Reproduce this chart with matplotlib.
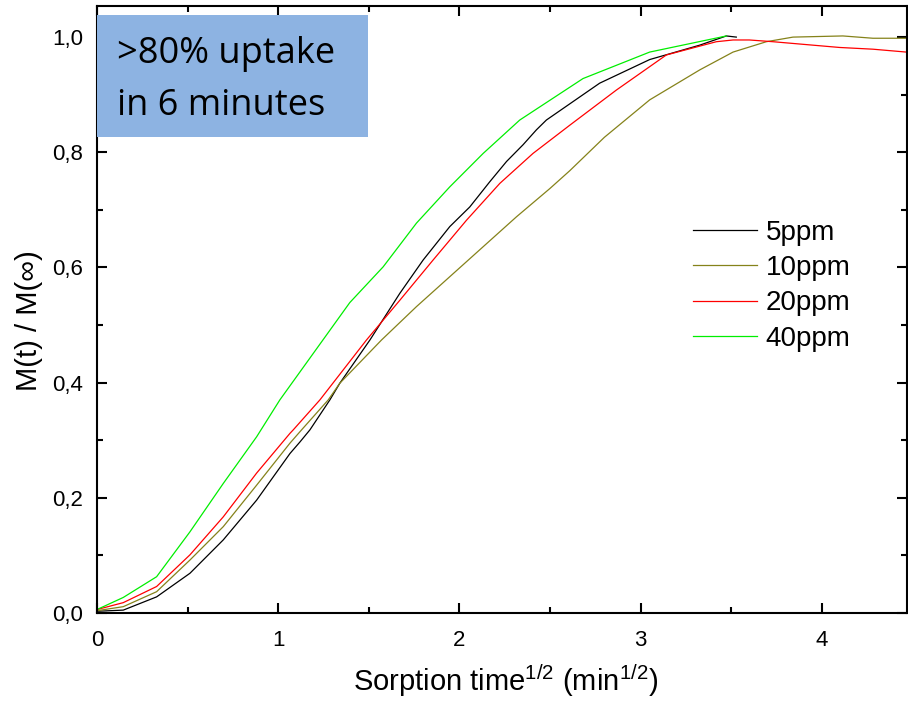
import matplotlib
matplotlib.use("Agg")
import matplotlib.pyplot as plt
from matplotlib.patches import Rectangle

plt.rcParams['font.family'] = ['Liberation Sans', 'DejaVu Sans']
plt.rcParams['mathtext.fontset'] = 'custom'
plt.rcParams['mathtext.rm'] = 'Liberation Sans'
plt.rcParams['mathtext.it'] = 'Liberation Sans'

# Sorption curves: square-root of time (min^1/2) vs. fractional uptake
t_5ppm = [0.0, 0.145, 0.329, 0.513, 0.697, 0.881, 1.065, 1.12, 1.175, 1.285, 1.34,
          1.506, 1.671, 1.8, 1.947, 2.057, 2.168, 2.26, 2.351, 2.425, 2.48, 2.774,
          3.05, 3.326, 3.473, 3.528]
m_5ppm = [0.003, 0.005, 0.028, 0.069, 0.127, 0.196, 0.277, 0.297, 0.318, 0.370, 0.399,
          0.474, 0.555, 0.613, 0.671, 0.705, 0.749, 0.784, 0.813, 0.839, 0.856, 0.920,
          0.961, 0.986, 1.002, 1.000]

t_10ppm = [0.0, 0.145, 0.329, 0.513, 0.697, 0.881, 1.065, 1.129, 1.276, 1.34, 1.57,
           1.763, 1.947, 2.131, 2.315, 2.499, 2.609, 2.8, 3.05, 3.326, 3.51, 3.694,
           3.841, 4.116, 4.282, 4.466]
m_10ppm = [0.004, 0.011, 0.037, 0.092, 0.150, 0.222, 0.295, 0.318, 0.370, 0.399, 0.474,
           0.532, 0.584, 0.636, 0.688, 0.737, 0.768, 0.826, 0.891, 0.943, 0.974, 0.992,
           1.000, 1.002, 0.998, 0.998]

t_20ppm = [0.0, 0.145, 0.329, 0.513, 0.697, 0.881, 1.065, 1.083, 1.23, 1.487, 1.671,
           1.855, 2.039, 2.223, 2.406, 2.609, 2.866, 3.142, 3.418, 3.51, 3.6, 3.73,
           3.877, 4.098, 4.282, 4.466]
m_20ppm = [0.006, 0.018, 0.046, 0.101, 0.167, 0.243, 0.312, 0.318, 0.370, 0.474, 0.543,
           0.613, 0.682, 0.746, 0.798, 0.847, 0.908, 0.969, 0.992, 0.995, 0.995, 0.992,
           0.988, 0.982, 0.979, 0.974]

t_40ppm = [0.0, 0.145, 0.329, 0.513, 0.697, 0.881, 1.009, 1.395, 1.579, 1.763, 1.947,
           2.131, 2.333, 2.682, 3.05, 3.473]
m_40ppm = [0.006, 0.027, 0.063, 0.141, 0.225, 0.306, 0.370, 0.539, 0.601, 0.677, 0.740,
           0.798, 0.856, 0.928, 0.974, 1.002]

series_labels = ['5ppm', '10ppm', '20ppm', '40ppm']
series_colors = ['#000000', '#85821a', '#ff0000', '#00ee00']

y_ticks = [0.0, 0.2, 0.4, 0.6, 0.8, 1.0]
y_tick_labels = ['0,0', '0,2', '0,4', '0,6', '0,8', '1,0']
x_ticks = [0, 1, 2, 3, 4]
x_tick_labels = ['0', '1', '2', '3', '4']

W, H = 908, 705
fig = plt.figure(figsize=(W / 100, H / 100), dpi=100)
ax = fig.add_axes([97 / W, 1 - 613 / H, (907 - 97) / W, (613 - 6) / H])

for t, m, lab, col in zip([t_5ppm, t_10ppm, t_20ppm, t_40ppm],
                          [m_5ppm, m_10ppm, m_20ppm, m_40ppm],
                          series_labels, series_colors):
    ax.plot(t, m, color=col, lw=0.9, label=lab)

ax.set_xlim(0, 4.47)
ax.set_ylim(0, 1.054)

ax.set_xticks(x_ticks)
ax.set_xticklabels(x_tick_labels)
ax.set_xticks([0.5, 1.5, 2.5, 3.5], minor=True)
ax.set_yticks(y_ticks)
ax.set_yticklabels(y_tick_labels)
ax.set_yticks([0.1, 0.3, 0.5, 0.7, 0.9], minor=True)

for lbl in ax.get_xticklabels() + ax.get_yticklabels():
    lbl.set_fontsize(16)

ax.tick_params(which='both', direction='in', top=True, right=True, width=1.5)
ax.tick_params(which='major', length=7.5)
ax.tick_params(which='minor', length=4)
ax.tick_params(axis='x', which='major', pad=12)
ax.tick_params(axis='y', which='major', pad=10)
for s in ax.spines.values():
    s.set_linewidth(1.5)

ax.set_xlabel('Sorption time$^{1/2}$ (min$^{1/2}$)', fontsize=21, va='baseline')
ax.xaxis.set_label_coords(0.505, -(691 - 613) / (613 - 6))
ax.set_ylabel('M(t) / M(\u221e)', fontsize=21, va='center')
ax.yaxis.set_label_coords(-(97 - 29) / (907 - 97), (613 - 321) / (613 - 6))

ax.legend(loc='upper left', bbox_to_anchor=(693 / W, 1 - 220 / H),
          bbox_transform=fig.transFigure, frameon=False, fontsize=20,
          handlelength=2.3, handletextpad=0.31, labelspacing=0.33,
          borderpad=0, borderaxespad=0)

# Highlight box with annotation
fig.patches.append(Rectangle((97 / W, 1 - 137 / H), (368 - 97) / W, (137 - 15) / H,
                             transform=fig.transFigure, facecolor='#8db3e2',
                             edgecolor='none', zorder=5))
fig.text(117 / W, 1 - 63 / H, '>80% uptake', family='Open Sans', fontsize=26,
         va='baseline', ha='left', zorder=6)
fig.text(117 / W, 1 - 115 / H, 'in 6 minutes', family='Open Sans', fontsize=26,
         va='baseline', ha='left', zorder=6)

fig.savefig('out.png', dpi=100)
